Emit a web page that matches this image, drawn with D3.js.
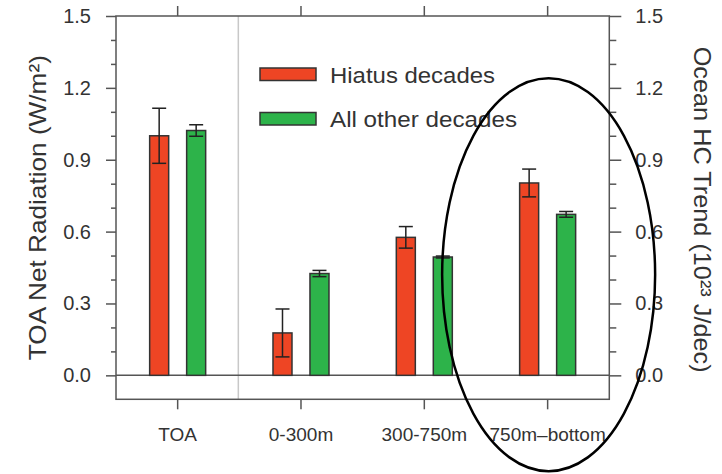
<!DOCTYPE html>
<html>
<head>
<meta charset="utf-8">
<script src="https://cdn.jsdelivr.net/npm/d3@7"></script>
<style>
  body { margin: 0; background: #fff; }
  text { font-family: "Liberation Sans", Arial, Helvetica, sans-serif; fill: #333; }
</style>
</head>
<body>
<div id="app"></div>
<script>
const categories = ["TOA", "0-300m", "300-750m", "750m\u2013bottom"];
const series = ["Hiatus decades", "All other decades"];
const hiatus = [1.0, 0.177, 0.576, 0.803];
const hiatusErr = [0.115, 0.1, 0.045, 0.058];
const other = [1.022, 0.425, 0.494, 0.672];
const otherErr = [0.024, 0.013, 0.004, 0.012];
const majorTicks = [0, 0.3, 0.6, 0.9, 1.2, 1.5];
const minorTicks = [0.1, 0.2, 0.4, 0.5, 0.7, 0.8, 1.0, 1.1, 1.3, 1.4];

const chart = () => {
  const width = 722;
  const height = 474;
  const left = 116, right = 609.3, top = 16, bottom = 399.3;
  const colors = ["#ee4524", "#2db34a"];

  const svg = d3.create("svg").attr("width", width).attr("height", height);

  const x = d3.scaleBand().domain(categories).range([left, right]).padding(0);
  const inner = d3.scaleBand().domain(series).range([-28, 28]).paddingInner(0.486);
  const y = d3.scaleLinear().domain([-0.1, 1.5]).range([bottom, top]);

  const rows = categories.flatMap((c, i) => [
    { cat: c, s: series[0], v: hiatus[i], e: hiatusErr[i] },
    { cat: c, s: series[1], v: other[i], e: otherErr[i] },
  ]);

  // divider between TOA and ocean layers
  svg
    .append("line")
    .attr("x1", x(categories[1]) - 1)
    .attr("x2", x(categories[1]) - 1)
    .attr("y1", top)
    .attr("y2", bottom)
    .attr("stroke", "#c8c8c8")
    .attr("stroke-width", 1.5);

  // zero line
  svg
    .append("line")
    .attr("x1", left)
    .attr("x2", right)
    .attr("y1", y(0))
    .attr("y2", y(0))
    .attr("stroke", "#555")
    .attr("stroke-width", 1.5);

  const style = (g) => {
    g.select(".domain").remove();
    g.selectAll("line").attr("stroke", "#555").attr("stroke-width", 1.5);
    g.selectAll("text").attr("fill", "#333").style("font-size", "20px")
      .style("font-family", '"Liberation Sans", Arial, sans-serif');
  };
  const fmt = d3.format(".1f");

  svg.append("g").attr("transform", `translate(${left},0)`)
    .call(d3.axisLeft(y).tickValues(majorTicks).tickSize(10).tickPadding(15).tickFormat(fmt))
    .call(style);
  svg.append("g").attr("transform", `translate(${left},0)`)
    .call(d3.axisLeft(y).tickValues(minorTicks).tickSize(5).tickFormat(""))
    .call(style);
  svg.append("g").attr("transform", `translate(${right},0)`)
    .call(d3.axisRight(y).tickValues(majorTicks).tickSize(12).tickPadding(14).tickFormat(fmt))
    .call(style);
  svg.append("g").attr("transform", `translate(${right},0)`)
    .call(d3.axisRight(y).tickValues(minorTicks).tickSize(7).tickFormat(""))
    .call(style);
  svg.append("g").attr("transform", `translate(0,${top})`)
    .call(d3.axisTop(x).tickSize(10).tickFormat(""))
    .call(style);
  svg.append("g").attr("transform", `translate(0,${bottom})`)
    .call(d3.axisBottom(x).tickSize(10).tickPadding(18))
    .call(style)
    .selectAll("text").style("font-size", "19px");

  // frame
  svg
    .append("rect")
    .attr("x", left)
    .attr("y", top)
    .attr("width", right - left)
    .attr("height", bottom - top)
    .attr("fill", "none")
    .attr("stroke", "#555")
    .attr("stroke-width", 1.5);

  const cx = (d) => x(d.cat) + x.bandwidth() / 2 + inner(d.s);

  svg
    .selectAll("rect.bar")
    .data(rows)
    .enter()
    .append("rect")
    .attr("class", "bar")
    .attr("x", (d) => cx(d))
    .attr("y", (d) => y(d.v))
    .attr("width", inner.bandwidth())
    .attr("height", (d) => y(0) - y(d.v))
    .attr("fill", (d) => colors[series.indexOf(d.s)])
    .attr("stroke", "#333")
    .attr("stroke-width", 1.5);

  const err = svg.append("g").attr("stroke", "#222").attr("stroke-width", 1.5);
  const mid = (d) => cx(d) + inner.bandwidth() / 2;
  err.selectAll("line.v").data(rows).enter().append("line")
    .attr("x1", mid).attr("x2", mid)
    .attr("y1", (d) => y(d.v + d.e)).attr("y2", (d) => y(d.v - d.e));
  err.selectAll("line.t").data(rows).enter().append("line")
    .attr("x1", (d) => mid(d) - 7).attr("x2", (d) => mid(d) + 7)
    .attr("y1", (d) => y(d.v + d.e)).attr("y2", (d) => y(d.v + d.e));
  err.selectAll("line.b").data(rows).enter().append("line")
    .attr("x1", (d) => mid(d) - 7).attr("x2", (d) => mid(d) + 7)
    .attr("y1", (d) => y(d.v - d.e)).attr("y2", (d) => y(d.v - d.e));

  // legend
  const legendY = [68, 112.5];
  const legendLen = [165, 187];
  series.forEach((s, i) => {
    svg.append("rect")
      .attr("x", 260).attr("y", legendY[i])
      .attr("width", 56).attr("height", 12.5)
      .attr("fill", colors[i]).attr("stroke", "#333").attr("stroke-width", 1.5);
    svg.append("text")
      .text(s)
      .attr("x", 330).attr("y", legendY[i] + 14.5)
      .attr("textLength", legendLen[i])
      .attr("lengthAdjust", "spacingAndGlyphs")
      .style("font-size", "22px");
  });

  // axis titles
  svg.append("text")
    .text("TOA Net Radiation (W/m\u00b2)")
    .attr("transform", `translate(46,${(top + bottom) / 2}) rotate(-90)`)
    .attr("text-anchor", "middle")
    .attr("textLength", 305)
    .attr("lengthAdjust", "spacingAndGlyphs")
    .style("font-size", "24px");

  svg.append("text")
    .text("Ocean HC Trend (10\u00b2\u00b3 J/dec)")
    .attr("transform", `translate(694,${(top + bottom) / 2 + 2}) rotate(90)`)
    .attr("text-anchor", "middle")
    .attr("textLength", 326)
    .attr("lengthAdjust", "spacingAndGlyphs")
    .style("font-size", "24px");

  // highlight ellipse around the deep-ocean pair
  svg.append("ellipse")
    .attr("cx", x(categories[3]) + x.bandwidth() / 2 + 1)
    .attr("cy", y(0.42))
    .attr("rx", 106.5)
    .attr("ry", y(-0.4) - y(0.42))
    .attr("fill", "none")
    .attr("stroke", "#000")
    .attr("stroke-width", 2.5);

  return svg.node();
};

d3.select("#app").append(chart);
</script>
</body>
</html>
